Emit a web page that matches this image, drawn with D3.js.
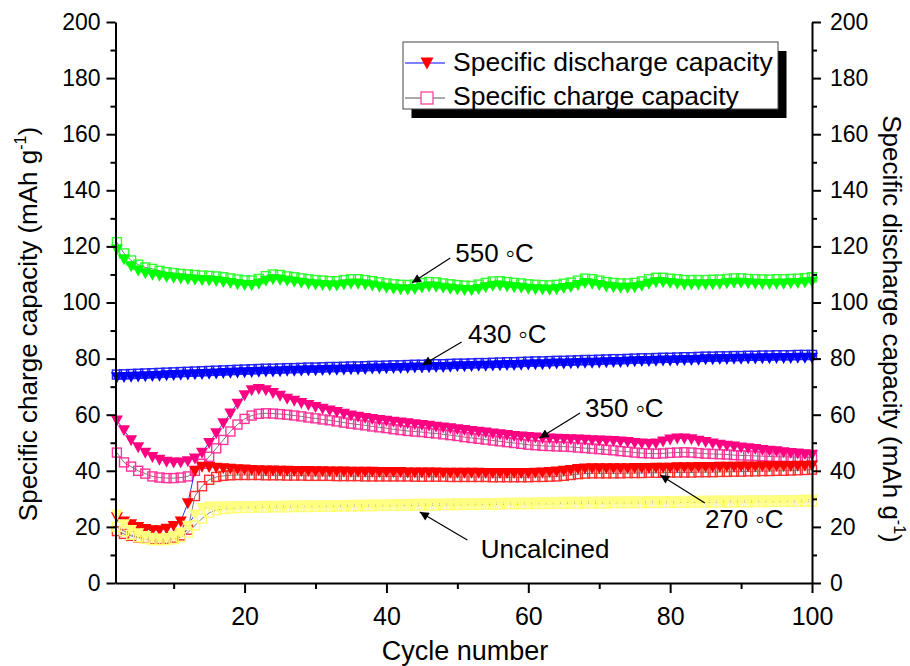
<!DOCTYPE html>
<html>
<head>
<meta charset="utf-8">
<script src="https://cdn.jsdelivr.net/npm/d3@7"></script>
<style>
body { margin: 0; background: #fff; }
svg text { font-family: "Liberation Sans", Arial, sans-serif; fill: #000; }
</style>
</head>
<body>
<div id="chart"></div>
<script>
// ---------------- data (cycles 2..100) ----------------
var cycles = d3.range(2, 101);

var green_charge = [121.5,117.5,115,113.5,112.5,112,111.3,110.8,110.5,110.2,
  110,109.8,109.6,109.5,109.3,109,108.6,108.2,107.9,107.8,
  108.4,109.4,110,109.8,109.3,109,108.6,108.3,108,107.8,
  107.6,107.6,108,108.3,108.3,108,107.6,107.2,106.8,106.5,
  106.3,106.2,106.4,106.9,107.3,107.2,106.8,106.5,106.2,106,
  105.9,106.4,107,107.5,107.6,107.3,107,106.8,106.5,106.3,
  106.2,106.1,106.3,106.7,107.1,107.8,108.5,108.3,107.8,107.3,
  107,106.8,106.8,107,107.5,108.3,108.8,108.8,108.5,108.3,
  108,108,108,108,108.1,108.2,108.4,108.6,108.6,108.4,
  108.3,108.2,108.2,108.3,108.3,108.4,108.5,108.7,109];
var green_discharge = [119,115.5,113,111.5,110.5,110,109.6,109.2,108.9,108.6,
  108.4,108.2,108,107.9,107.7,107.4,107,106.6,106.3,106.2,
  106.8,107.8,108.4,108.2,107.8,107.5,107.1,106.8,106.5,106.3,
  106.1,106.1,106.5,106.8,106.8,106.5,106.1,105.7,105.3,105,
  104.8,104.7,104.9,105.4,105.8,105.7,105.3,105,104.7,104.5,
  104.4,104.9,105.5,106,106.1,105.8,105.5,105.3,105,104.8,
  104.7,104.6,104.8,105.2,105.6,106.3,107,106.8,106.3,105.8,
  105.5,105.3,105.3,105.5,106,106.8,107.3,107.3,107,106.8,
  106.5,106.5,106.5,106.5,106.6,106.7,106.9,107.1,107.1,106.9,
  106.8,106.7,106.7,106.8,106.8,106.9,107,107.2,107.5];

var blue_charge = [74.3,74.4,74.5,74.6,74.7,74.8,74.9,75,75.1,75.2,
  75.3,75.4,75.5,75.6,75.7,75.8,75.9,76,76.1,76.2,
  76.3,76.4,76.4,76.5,76.6,76.6,76.7,76.8,76.8,76.9,
  77,77,77.1,77.2,77.2,77.3,77.4,77.4,77.5,77.6,
  77.6,77.7,77.8,77.8,77.9,78,78,78.1,78.2,78.2,
  78.3,78.4,78.4,78.5,78.6,78.7,78.7,78.8,78.9,79,
  79,79.1,79.2,79.2,79.3,79.4,79.5,79.5,79.6,79.7,
  79.8,79.8,79.9,80,80.1,80.1,80.2,80.3,80.3,80.4,
  80.5,80.5,80.6,80.7,80.7,80.8,80.8,80.9,80.9,81,
  81,81.1,81.1,81.2,81.2,81.2,81.3,81.3,81.3];
var blue_discharge = [73.4,73.5,73.6,73.7,73.8,73.9,74,74.1,74.2,74.3,
  74.4,74.5,74.6,74.7,74.8,74.9,75,75.1,75.2,75.3,
  75.4,75.5,75.5,75.6,75.7,75.7,75.8,75.9,75.9,76,
  76.1,76.1,76.2,76.3,76.3,76.4,76.5,76.5,76.6,76.7,
  76.7,76.8,76.9,76.9,77,77.1,77.1,77.2,77.3,77.3,
  77.4,77.5,77.5,77.6,77.7,77.8,77.8,77.9,78,78.1,
  78.1,78.2,78.3,78.3,78.4,78.5,78.6,78.6,78.7,78.8,
  78.9,78.9,79,79.1,79.2,79.2,79.3,79.4,79.4,79.5,
  79.6,79.6,79.7,79.8,79.8,79.9,79.9,80,80,80.1,
  80.1,80.2,80.2,80.3,80.3,80.3,80.4,80.4,80.4];

var pink_charge = [46.5,43,41.5,40,39,38,37.6,37.4,37.4,37.6,
  38,40,42.5,45,48,51,54,56.5,58.5,59.7,
  60.3,60.5,60.4,60.2,60,59.7,59.4,59,58.7,58.3,
  58,57.6,57.2,56.8,56.5,56.2,55.8,55.5,55.2,54.8,
  54.5,54.2,54,53.8,53.5,53.3,53,52.7,52.4,52,
  51.7,51.4,51.1,50.8,50.5,50.2,49.9,49.6,49.3,49.1,
  48.9,48.8,48.7,48.6,48.5,48.3,48.1,47.9,47.7,47.5,
  47.3,47,46.8,46.5,46.3,46.2,46.1,46.2,46.4,46.5,
  46.6,46.5,46.3,46.1,46,45.9,45.8,45.6,45.5,45.4,
  45.3,45.2,45.1,45,45,44.9,44.9,44.8,44.8];
var pink_discharge = [58,54.5,51,48.5,46.5,45,44,43.3,43,43,
  43.5,44.5,46.5,50,53.5,57,60.5,64,67,68.8,
  69.2,68.8,67.8,66.8,65.8,65,64.2,63.5,62.8,62.2,
  61.6,61,60.4,59.8,59.3,58.9,58.5,58.2,57.9,57.6,
  57.3,57,56.7,56.4,56.1,55.8,55.5,55.2,54.9,54.6,
  54.3,54,53.7,53.4,53.1,52.8,52.5,52.3,52.1,51.9,
  51.7,51.6,51.5,51.4,51.3,51.2,51.1,51,50.9,50.8,
  50.7,50.5,50.3,50,49.8,49.6,49.8,50.5,51.2,51.6,
  51.6,51.3,50.8,50.3,49.8,49.4,49,48.7,48.4,48.1,
  47.8,47.5,47.2,47,46.7,46.4,46.2,46,45.8];

var red_charge = [18.5,17.5,16.8,16.2,15.8,15.6,15.6,15.8,16.2,17,
  19,31,34.5,36.8,37.8,38.2,38.4,38.5,38.5,38.5,
  38.5,38.4,38.4,38.4,38.3,38.3,38.3,38.2,38.2,38.2,
  38.2,38.1,38.1,38.1,38.1,38,38,38,38,38,
  38,38,37.9,37.9,37.9,37.9,37.9,37.8,37.8,37.8,
  37.8,37.8,37.8,37.7,37.7,37.7,37.7,37.7,37.7,37.8,
  37.8,37.9,38,38.2,38.5,38.8,39,39.1,39.1,39.1,
  39.1,39.1,39.2,39.2,39.2,39.3,39.3,39.3,39.4,39.4,
  39.4,39.4,39.5,39.5,39.5,39.6,39.6,39.7,39.7,39.8,
  39.8,39.9,39.9,40,40,40.1,40.2,40.3,40.4];
var red_discharge = [23.5,22,21,20,19.3,18.9,18.9,19.4,20.4,22,
  28.5,40,41.5,41.4,41.2,41,40.8,40.6,40.5,40.4,
  40.3,40.2,40.2,40.1,40.1,40,40,40,39.9,39.9,
  39.8,39.8,39.8,39.7,39.7,39.7,39.7,39.6,39.6,39.6,
  39.6,39.5,39.5,39.5,39.5,39.5,39.4,39.4,39.4,39.4,
  39.4,39.4,39.3,39.3,39.3,39.3,39.3,39.3,39.3,39.4,
  39.5,39.6,39.8,40.1,40.4,40.7,40.9,41,41,41,
  41,41,41,41.1,41.1,41.1,41.2,41.2,41.2,41.3,
  41.3,41.3,41.4,41.4,41.4,41.5,41.5,41.5,41.6,41.6,
  41.6,41.7,41.7,41.8,41.8,41.8,41.9,41.9,42];

var yellow_charge = [20,18.5,17.2,16.3,15.7,15.3,15.2,15.3,15.6,16.3,
  18,20.5,23,25,26,26.4,26.6,26.7,26.8,26.8,
  26.9,26.9,27,27,27,27.1,27.1,27.1,27.2,27.2,
  27.2,27.3,27.3,27.3,27.4,27.4,27.4,27.5,27.5,27.5,
  27.6,27.6,27.6,27.7,27.7,27.7,27.8,27.8,27.8,27.9,
  27.9,27.9,28,28,28,28.1,28.1,28.1,28.2,28.2,
  28.2,28.2,28.3,28.3,28.3,28.3,28.4,28.4,28.4,28.4,
  28.5,28.5,28.5,28.5,28.5,28.6,28.6,28.6,28.6,28.6,
  28.7,28.7,28.7,28.7,28.7,28.8,28.8,28.8,28.8,28.8,
  28.9,28.9,28.9,28.9,29,29,29,29,29];
var yellow_discharge = [24.5,21,19,17.8,16.8,16.2,15.9,16.1,16.8,18,
  20.5,24.5,26.8,27.3,27.4,27.4,27.4,27.5,27.5,27.5,
  27.5,27.6,27.6,27.6,27.7,27.7,27.7,27.8,27.8,27.8,
  27.9,27.9,27.9,28,28,28,28.1,28.1,28.1,28.2,
  28.2,28.2,28.3,28.3,28.3,28.4,28.4,28.4,28.5,28.5,
  28.5,28.6,28.6,28.6,28.7,28.7,28.7,28.8,28.8,28.8,
  28.9,28.9,28.9,29,29,29,29,29.1,29.1,29.1,
  29.1,29.2,29.2,29.2,29.2,29.3,29.3,29.3,29.3,29.3,
  29.4,29.4,29.4,29.4,29.5,29.5,29.5,29.5,29.5,29.6,
  29.6,29.6,29.6,29.7,29.7,29.7,29.7,29.8,29.8];

var yTicks = [0, 20, 40, 60, 80, 100, 120, 140, 160, 180, 200];
var yMinor = [10, 30, 50, 70, 90, 110, 130, 150, 170, 190];
var xTicks = [20, 40, 60, 80, 100];
var xMinor = [10, 30, 50, 70, 90];

// labels pointing at the curves, in data units: text position + arrow from/to
var labelText = ["550 \u25E6C", "430 \u25E6C", "350 \u25E6C", "270 \u25E6C", "Uncalcined"];
var labelPos  = [[49.7, 114.4], [51.5, 85.6], [68.0, 59.2], [84.9, 19.6], [53.3, 8.9]];
var arrowFrom = [[49.0, 115.9], [50.6, 85.9], [67.3, 60.6], [84.9, 28.5], [51.4, 15.3]];
var arrowTo   = [[43.6, 107.0], [45.1, 77.7], [61.6, 51.7], [78.6, 38.5], [44.7, 25.3]];

var legendLabels = ["Specific discharge capacity", "Specific charge capacity"];

// -------------------------------------------------------------------------
var series = [
    {charge: green_charge,  discharge: green_discharge,  tri: "#00ff00", sq: "#33ff33"},
    {charge: blue_charge,   discharge: blue_discharge,   tri: "#0000ff", sq: "#2020ff"},
    {charge: pink_charge,   discharge: pink_discharge,   tri: "#ff0080", sq: "#ff3399"},
    {charge: red_charge,    discharge: red_discharge,    tri: "#ff0000", sq: "#ff3030"},
    {charge: yellow_charge, discharge: yellow_discharge, tri: "#ffff80", sq: "#ffff70"}
];

var W = 910, H = 666;
var plot = {left: 115.5, right: 812, top: 22, bottom: 583};

var svg = d3.select("#chart").append("svg")
    .attr("width", W)
    .attr("height", H);

var x = d3.scaleLinear().domain([1.8, 100]).range([plot.left, plot.right]);
var y = d3.scaleLinear().domain([0, 200]).range([plot.bottom, plot.top]);

var triPath = "M-6,-4.8L6,-4.8L0,6.2Z";
var sqSize = 9;

svg.append("defs").append("marker")
    .attr("id", "arrow")
    .attr("viewBox", "0 0 10 10")
    .attr("refX", 10).attr("refY", 5)
    .attr("markerWidth", 14).attr("markerHeight", 9)
    .attr("markerUnits", "userSpaceOnUse")
    .attr("orient", "auto")
    .append("path")
    .attr("d", "M0,0L10,5L0,10Z")
    .attr("fill", "#000");

// series
var line = function(vals) {
    return d3.line()
        .x(function(d, i) { return x(cycles[i]); })
        .y(function(d) { return y(d); })(vals);
};

var marks = svg.append("g").attr("class", "marks");
series.forEach(function(s) {
    var g = marks.append("g");
    g.append("path").attr("d", line(s.charge))
        .attr("fill", "none").attr("stroke", "#555").attr("stroke-width", 0.8);
    g.append("path").attr("d", line(s.discharge))
        .attr("fill", "none").attr("stroke", "#0000ff").attr("stroke-width", 0.8);
    g.selectAll(".sq").data(s.charge).enter().append("rect")
        .attr("class", "sq")
        .attr("x", function(d, i) { return x(cycles[i]) - sqSize / 2; })
        .attr("y", function(d) { return y(d) - sqSize / 2; })
        .attr("width", sqSize).attr("height", sqSize)
        .attr("fill", "none")
        .attr("stroke", s.sq)
        .attr("stroke-width", 1.4);
    g.selectAll(".tri").data(s.discharge).enter().append("path")
        .attr("class", "tri")
        .attr("d", triPath)
        .attr("transform", function(d, i) { return "translate(" + x(cycles[i]) + "," + y(d) + ")"; })
        .attr("fill", s.tri);
});

// axes
function styleAxis(g) {
    g.selectAll("path.domain").attr("stroke", "#000").attr("stroke-width", 2);
    g.selectAll(".tick line").attr("stroke", "#000").attr("stroke-width", 2);
}

var yLeft = svg.append("g").attr("transform", "translate(" + plot.left + ",0)")
    .call(d3.axisLeft(y).tickValues(yTicks).tickSize(9).tickSizeOuter(0).tickPadding(6));
yLeft.call(styleAxis);
yLeft.selectAll("text").style("font-size", "23px").style("font-family", "Liberation Sans, Arial, sans-serif");
svg.append("g").attr("transform", "translate(" + plot.left + ",0)")
    .call(d3.axisLeft(y).tickValues(yMinor).tickSize(5).tickFormat(""))
    .call(styleAxis).select("path.domain").remove();

var yRight = svg.append("g").attr("transform", "translate(" + plot.right + ",0)")
    .call(d3.axisRight(y).tickValues(yTicks).tickSize(9).tickSizeOuter(0).tickPadding(9));
yRight.call(styleAxis);
yRight.selectAll("text").style("font-size", "23px").style("font-family", "Liberation Sans, Arial, sans-serif");
svg.append("g").attr("transform", "translate(" + plot.right + ",0)")
    .call(d3.axisRight(y).tickValues(yMinor).tickSize(5).tickFormat(""))
    .call(styleAxis).select("path.domain").remove();

var xAxis = svg.append("g").attr("transform", "translate(0," + plot.bottom + ")")
    .call(d3.axisBottom(x).tickValues(xTicks).tickSize(10).tickSizeOuter(0).tickPadding(14));
xAxis.call(styleAxis);
xAxis.selectAll("text").style("font-size", "25px")
    .style("font-family", "'Liberation Sans Narrow', 'Liberation Sans', Arial, sans-serif");
svg.append("g").attr("transform", "translate(0," + plot.bottom + ")")
    .call(d3.axisBottom(x).tickValues(xMinor).tickSize(6).tickFormat(""))
    .call(styleAxis).select("path.domain").remove();

// axis titles
svg.append("text")
    .attr("x", 465).attr("y", 660)
    .attr("text-anchor", "middle")
    .style("font-size", "27px")
    .text("Cycle number");

var lt = svg.append("text")
    .attr("transform", "translate(37,324) rotate(-90)")
    .attr("text-anchor", "middle")
    .style("font-size", "26px");
lt.append("tspan").text("Specific charge capacity (mAh g");
lt.append("tspan").attr("dy", -11).style("font-size", "16px").text("-1");
lt.append("tspan").attr("dy", 11).text(")");

var rt = svg.append("text")
    .attr("transform", "translate(883,329) rotate(90)")
    .attr("text-anchor", "middle")
    .style("font-size", "26px");
rt.append("tspan").text("Specific discharge capacity (mAh g");
rt.append("tspan").attr("dy", -11).style("font-size", "16px").text("-1");
rt.append("tspan").attr("dy", 11).text(")");

// annotations
var ann = svg.append("g").attr("class", "annotations");
labelText.forEach(function(t, i) {
    ann.append("line")
        .attr("x1", x(arrowFrom[i][0])).attr("y1", y(arrowFrom[i][1]))
        .attr("x2", x(arrowTo[i][0])).attr("y2", y(arrowTo[i][1]))
        .attr("stroke", "#000").attr("stroke-width", 1.2)
        .attr("marker-end", "url(#arrow)");
    ann.append("text")
        .attr("x", x(labelPos[i][0])).attr("y", y(labelPos[i][1]))
        .style("font-size", "26px")
        .text(t);
});

// legend
var lg = svg.append("g").attr("transform", "translate(403,42)");
lg.append("rect").attr("x", 8.5).attr("y", 9).attr("width", 375).attr("height", 67).attr("fill", "#000");
lg.append("rect").attr("x", 0).attr("y", 0).attr("width", 375).attr("height", 67)
    .attr("fill", "#fff").attr("stroke", "#444").attr("stroke-width", 1);
lg.append("line").attr("x1", 2).attr("x2", 42).attr("y1", 21).attr("y2", 21)
    .attr("stroke", "#0000ff").attr("stroke-width", 1);
lg.append("path").attr("d", "M-6.5,-5.5L6.5,-5.5L0,6.5Z")
    .attr("transform", "translate(24,21)").attr("fill", "#ff0000");
lg.append("line").attr("x1", 2).attr("x2", 42).attr("y1", 56).attr("y2", 56)
    .attr("stroke", "#555").attr("stroke-width", 1);
lg.append("rect").attr("x", 18).attr("y", 50).attr("width", 12).attr("height", 12)
    .attr("fill", "#fff").attr("stroke", "#ff3399").attr("stroke-width", 1.2);
legendLabels.forEach(function(t, i) {
    lg.append("text").attr("x", 50).attr("y", 29 + i * 34)
        .style("font-size", "26.5px")
        .text(t);
});
</script>
</body>
</html>
